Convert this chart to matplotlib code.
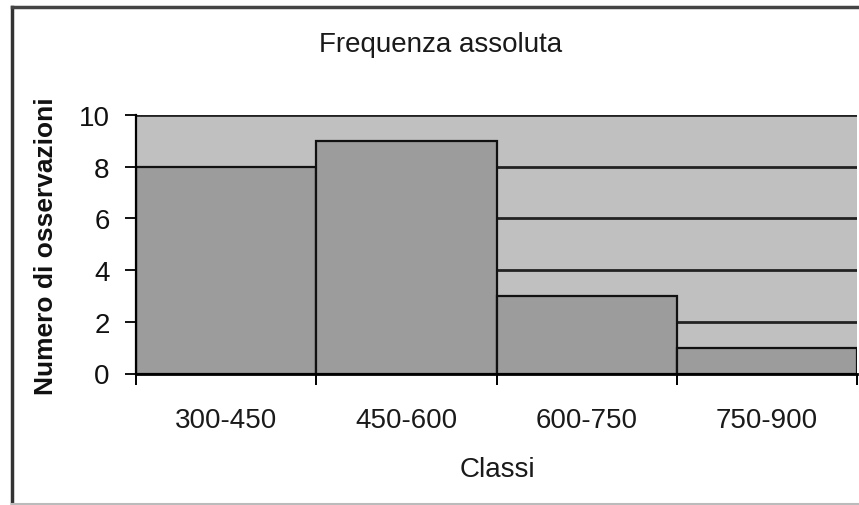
import numpy as np
import matplotlib
matplotlib.use("Agg")
import matplotlib.pyplot as plt
from matplotlib.lines import Line2D

# Frequency table
classes = ["300-450", "450-600", "600-750", "750-900"]
counts = [8, 9, 3, 1]
y_ticks = [0, 2, 4, 6, 8, 10]

title = "Frequenza assoluta"
x_label = "Classi"
y_label = "Numero di osservazioni"

plt.rcParams["font.family"] = ["Liberation Sans", "DejaVu Sans"]

W, H = 859, 506
fig = plt.figure(figsize=(W / 100, H / 100), dpi=100)
fig.patch.set_facecolor("white")

# plot area in pixel bounds (left, right, top, bottom)
L, R, T, B = 136, 857, 116, 374.5
ax = fig.add_axes([L / W, 1 - B / H, (R - L) / W, (B - T) / H])
ax.set_facecolor("#c0c0c0")

pos = np.arange(len(classes)) + 0.5
ax.bar(pos, counts, width=1.0, color="#9c9c9c", edgecolor="#111111",
       linewidth=1.6, zorder=3)

ax.set_xlim(0, len(classes))
ax.set_ylim(0, 10)

# horizontal gridlines
ax.set_yticks(y_ticks)
ax.yaxis.grid(True, color="#222222", linewidth=2.0, zorder=1)
ax.set_axisbelow(True)

ax.set_yticklabels([str(v) for v in y_ticks], fontsize=20)
ax.tick_params(axis="y", direction="out", length=8, width=1.4,
               pad=11, colors="#111111")

# bin boundaries as major ticks, class names at bar centres
ax.set_xticks(np.arange(len(classes) + 1))
ax.set_xticklabels([""] * (len(classes) + 1))
ax.set_xticks(pos, minor=True)
ax.set_xticklabels(classes, minor=True, fontsize=20)
ax.tick_params(axis="x", which="major", direction="out", length=8, width=1.4)
ax.tick_params(axis="x", which="minor", length=0, pad=24, colors="#1a1a1a")

for side in ("top", "right"):
    ax.spines[side].set_visible(False)
ax.spines["left"].set_linewidth(1.6)
ax.spines["bottom"].set_linewidth(2.0)
ax.spines["left"].set_zorder(4)
ax.spines["bottom"].set_zorder(4)

fig.text(441 / W, 1 - 52 / H, title, ha="center", va="baseline",
         fontsize=20, color="#1a1a1a")
fig.text(497 / W, 1 - 477 / H, x_label, ha="center", va="baseline",
         fontsize=20, color="#1a1a1a")
fig.text(46 / W, 1 - 246 / H, y_label, ha="center", va="center",
         rotation=90, fontsize=19, fontweight="bold", color="#111111")

# chart frame
fig.add_artist(Line2D([12 / W, 12 / W], [1 - 8 / H, 1 - 505 / H],
                      transform=fig.transFigure, color="#333333", linewidth=2.5))
fig.add_artist(Line2D([12 / W, 1.0], [1 - 8 / H, 1 - 8 / H],
                      transform=fig.transFigure, color="#444444", linewidth=2.5))
fig.add_artist(Line2D([12 / W, 1.0], [1 - 505 / H, 1 - 505 / H],
                      transform=fig.transFigure, color="#bbbbbb", linewidth=1.5))

fig.savefig("out.png", dpi=100)
